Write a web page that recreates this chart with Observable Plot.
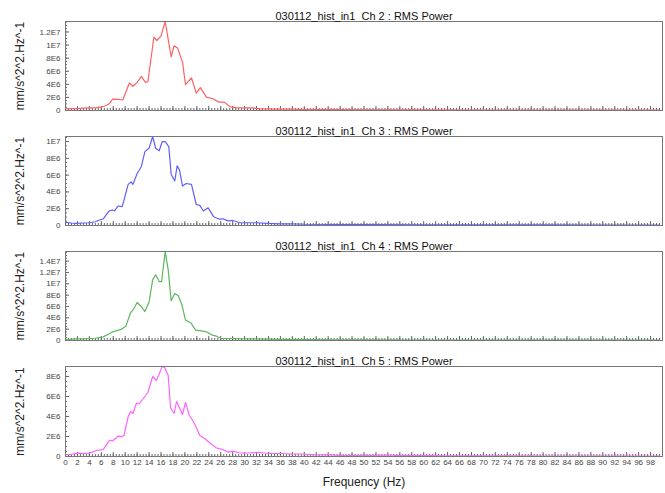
<!DOCTYPE html>
<html><head><meta charset="utf-8">
<script src="https://cdn.jsdelivr.net/npm/d3@7"></script>
<script src="https://cdn.jsdelivr.net/npm/@observablehq/plot@0.6"></script>
<style>body{margin:0;background:#fff} #chart svg{display:block}</style>
</head><body><div id="chart"></div>
<script>
// Frequencies (Hz) and RMS power values (in units of 1E6 mm/s^2^2.Hz^-1)
const freqCh2 = [0,1,2,3,4,5,6,6.5,7.3,7.9,8.8,9.6,10.7,11.3,12,12.7,13.4,13.8,14.8,15.3,16.0,16.7,17.7,18.2,18.8,19.6,20.1,21.1,21.9,22.6,23.6,24.7,25.7,26.6,27.5,28.6,30,31.4,32.5,34,36,38,40,45,50,55,60,70,80,90,99.5];
const powCh2  = [0.25,0.3,0.3,0.35,0.4,0.4,0.55,0.65,1.0,1.74,1.7,1.6,4.2,3.7,4.3,5.2,4.3,4.4,11.2,10.7,11.4,13.6,8.2,9.9,9.5,7.4,3.95,5.0,2.66,3.5,2.05,1.8,1.28,1.28,0.6,0.4,0.4,0.4,0.25,0.25,0.2,0.2,0.15,0.15,0.1,0.1,0.1,0.08,0.08,0.06,0.06];

const freqCh3 = [0,1,1.8,3,4,5,5.7,6.3,7.3,7.8,8.2,8.8,9.5,10.5,11.0,11.3,12.0,12.7,13.3,14.0,14.6,15.1,15.7,16.2,16.7,17.3,17.7,18.3,18.7,19.1,19.6,20.2,21.1,21.9,22.5,23.1,23.9,24.8,25.7,26.4,27.2,28.0,29.2,30.3,32,34,36,38,40,45,50,60,70,80,90,99.5];
const powCh3  = [0.38,0.3,0.26,0.3,0.33,0.45,0.65,0.77,1.73,1.85,1.75,2.32,2.25,4.9,5.2,4.9,6.2,7.0,8.8,9.2,10.6,9.2,8.9,10.0,10.0,9.4,6.1,5.3,7.1,6.6,4.7,5.0,4.9,2.5,2.4,1.73,2.1,1.05,0.77,0.8,0.55,0.6,0.33,0.33,0.33,0.25,0.2,0.2,0.15,0.12,0.1,0.08,0.08,0.07,0.06,0.06];

const freqCh4 = [0,1,2,3,4,5,6.3,7.2,7.9,9.3,10.1,10.9,11.4,12.0,12.7,13.3,14.0,14.6,15.1,15.7,16.1,16.7,17.2,17.7,18.3,18.9,19.5,20.1,21.0,21.8,22.8,23.6,24.6,25.3,26.1,28,30,32,34,36,38,40,45,50,60,70,80,90,99.5];
const powCh4  = [0.18,0.25,0.3,0.3,0.35,0.4,0.64,1.1,1.53,1.95,2.5,4.9,5.5,6.7,6.0,5.1,6.8,10.7,11.6,10.4,10.4,15.7,12.5,7.0,8.3,7.9,6.3,3.6,3.1,1.83,1.7,1.53,0.94,0.76,0.35,0.35,0.3,0.3,0.25,0.2,0.2,0.15,0.12,0.1,0.08,0.08,0.06,0.06,0.05];

const freqCh5 = [0,1,2,3,4,5.2,6.3,7.4,7.9,8.8,9.4,9.8,10.5,10.9,11.3,11.9,12.4,13.3,13.8,14.6,15.2,15.6,16.2,16.6,17.2,17.6,18.2,18.6,19.6,20.1,20.7,21.6,22.5,23.3,24.2,25.3,26.4,27.3,28.1,29.2,30.5,32.5,34,36,38,40,42,44,46,50,54,56,60,61,63,70,80,90,99.5];
const powCh5  = [0.2,0.2,0.34,0.3,0.34,0.6,0.68,1.63,1.55,2.03,1.98,2.1,4.0,4.5,4.3,5.35,5.3,6.0,6.4,8.0,7.6,8.1,9.0,8.9,8.1,4.85,4.3,5.5,4.2,5.4,4.2,3.3,2.1,1.8,1.35,0.85,0.68,0.44,0.54,0.35,0.35,0.4,0.3,0.3,0.25,0.25,0.15,0.2,0.1,0.1,0.15,0.08,0.08,0.12,0.06,0.06,0.05,0.05,0.05];

const channels = ["Ch 2","Ch 3","Ch 4","Ch 5"];
const colors = ["#ff6262","#5f5fff","#5cb85c","#ff62ff"];
const titlePrefix = "030112_hist_in1\u00a0 ";
const titleSuffix = " : RMS Power";
const yLabel = "mm/s^2^2.Hz^-1";
const xLabel = "Frequency (Hz)";
const xTickLabels = d3.range(0, 100, 2);

const series = [[freqCh2,powCh2],[freqCh3,powCh3],[freqCh4,powCh4],[freqCh5,powCh5]];

function fmt(d){
  if (d === 0) return "0";
  const e = Math.floor(Math.log10(d) + 1e-9);
  const m = d / Math.pow(10, e);
  return `${+m.toFixed(3)}E${e}`;
}

const root = document.getElementById("chart");
series.forEach(([fs, ps], i) => {
  const last = i === 3;
  const data = fs.map((f, j) => ({f, v: ps[j] * 1e6}));
  const ymax = d3.max(data, d => d.v);
  const H = last ? 148 : 115;
  const mt = 21, mb = last ? 37 : 5, ml = 65, mr = 3;
  const ph = H - mt - mb, pw = 665 - ml - mr;
  const yMajor = d3.range(0, ymax, 2e6);
  const yMinor = d3.range(0, ymax, 0.5e6);
  const marks = [
    Plot.tickX(d3.range(0, 100, 0.5), {x: d => d, insetTop: ph - 2, stroke: "#666"}),
    Plot.tickX(d3.range(0, 100, 2), {x: d => d, insetTop: ph - 4, stroke: "#666"}),
    Plot.tickY(yMinor, {y: d => d, insetRight: pw - 2, stroke: "#666"}),
    Plot.tickY(yMajor, {y: d => d, insetRight: pw - 4, stroke: "#666"}),
    Plot.line(data, {x: "f", y: "v", stroke: colors[i], strokeWidth: 1.2}),
    Plot.frame({stroke: "#777"}),
    Plot.axisY(yMajor, {tickSize: 0, tickPadding: 5, tickFormat: fmt, label: null, fill: "#444"}),
    Plot.text([titlePrefix + channels[i] + titleSuffix], {text: d => d, frameAnchor: "top", dy: -9, fontSize: 11, fill: "#111"}),
    Plot.text([yLabel], {text: d => d, frameAnchor: "left", textAnchor: "middle", lineAnchor: "middle", rotate: -90, dx: -45, fontSize: 12, fill: "#222"})
  ];
  if (last) {
    marks.push(Plot.axisX(xTickLabels, {tickSize: 0, tickPadding: 3, label: null, fill: "#444"}));
    marks.push(Plot.text([xLabel], {text: d => d, frameAnchor: "bottom", dy: 29, fontSize: 12, fill: "#222"}));
  }
  const chart = Plot.plot({
    width: 665, height: H,
    marginLeft: ml, marginRight: mr, marginTop: mt, marginBottom: mb,
    style: {fontFamily: "'Liberation Sans', Arial, sans-serif", fontSize: "8px", color: "#333", background: "#fff"},
    x: {domain: [0, 100], axis: last ? undefined : null},
    y: {domain: [0, ymax]},
    marks
  });
  root.appendChild(chart);
});
</script>
</body></html>
